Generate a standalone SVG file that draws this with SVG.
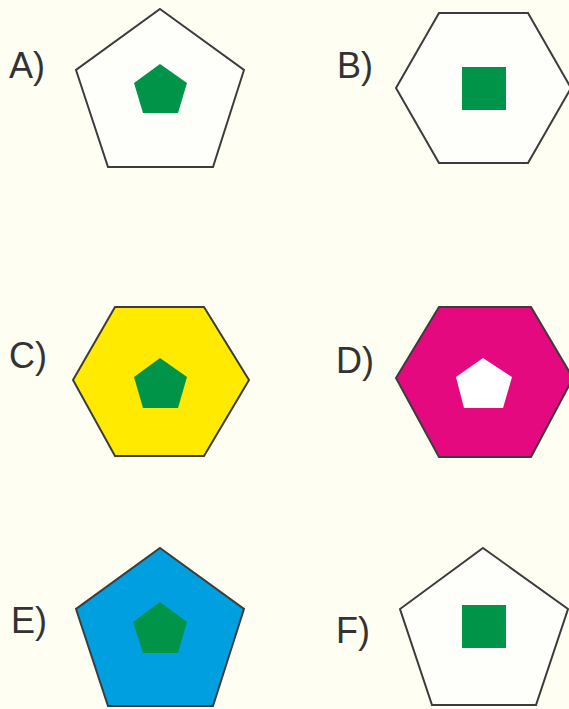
<svg xmlns="http://www.w3.org/2000/svg" width="569" height="709" viewBox="0 0 569 709">
<style>
.bg{fill:#fefef2}
.outer{stroke:#3c3c3c;stroke-width:2;stroke-linejoin:miter}
.white{fill:#fefefb}
.green{fill:#009448}
.lbl{font-family:"Liberation Sans",Arial,sans-serif;font-size:36px;fill:#333333}
</style>
<rect class="bg" x="0" y="0" width="569" height="709"/>
<g id="A">
<text class="lbl" x="9" y="78">A)</text>
<polygon class="outer white" points="160,9 244,70 213,167 108,167 76,70"/>
<polygon class="green" points="160,64 187,83 178,113 143,113 134,83"/>
</g>
<g id="B">
<text class="lbl" x="337" y="78">B)</text>
<polygon class="outer white" points="396,88 439,13 528,13 571,88 528,163 439,163"/>
<rect class="green" x="462" y="67" width="44" height="43"/>
</g>
<g id="C">
<text class="lbl" x="9" y="368">C)</text>
<polygon class="outer" fill="#ffea00" points="73,380 115,307 204,307 249,380 204,456 115,456"/>
<polygon class="green" points="160,358 187,377 178,408 143,408 134,377"/>
</g>
<g id="D">
<text class="lbl" x="336" y="373">D)</text>
<polygon class="outer" fill="#e5097f" points="396,378 439,307 531,307 573,378 531,457 439,457"/>
<polygon fill="#ffffff" points="483,358 512,377 503,408 464,408 456,377"/>
</g>
<g id="E">
<text class="lbl" x="11" y="633">E)</text>
<polygon class="outer" fill="#009fe0" points="160,548 244,609 213,706 108,706 76,609"/>
<polygon class="green" points="160,602 187,622 178,653 143,653 133,622"/>
</g>
<g id="F">
<text class="lbl" x="336" y="643">F)</text>
<polygon class="outer white" points="483,548 568,609 536,705 432,705 400,609"/>
<rect class="green" x="462" y="605" width="44" height="43"/>
</g>
<g id="connectors"/>
</svg>
